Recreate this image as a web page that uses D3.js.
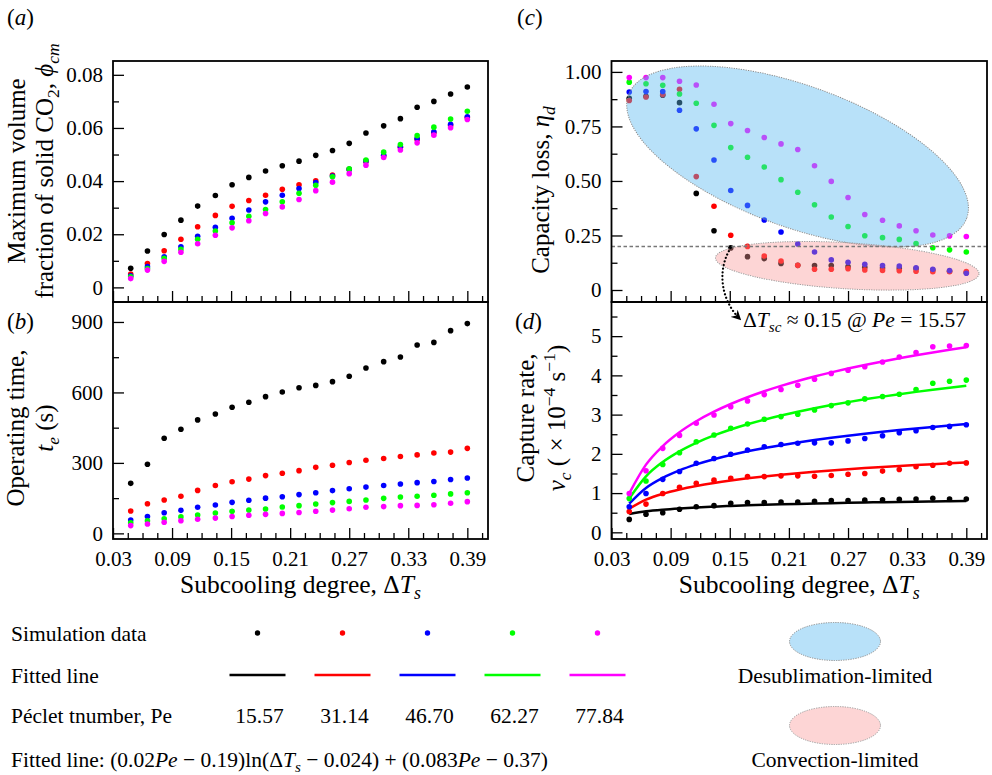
<!DOCTYPE html>
<html>
<head>
<meta charset="utf-8">
<script src="https://cdn.jsdelivr.net/npm/d3@7/dist/d3.min.js"></script>
<style>
  html, body { margin: 0; padding: 0; background: #fff; }
  svg { display: block; font-family: "Liberation Serif", "Times New Roman", "DejaVu Serif", serif; }
  text { white-space: pre; }
</style>
</head>
<body>
<svg id="fig" width="992" height="775"></svg>
<script>
// Subcooling degree ΔT_s of every simulation run
const subcooling = [0.048, 0.065, 0.082, 0.099, 0.116, 0.134, 0.151, 0.168, 0.185, 0.202,
                    0.219, 0.236, 0.253, 0.270, 0.287, 0.305, 0.322, 0.339, 0.356, 0.373, 0.390];

const pecletLabels = ["15.57", "31.14", "46.70", "62.27", "77.84"];
const pecletValues = [15.57, 31.14, 46.70, 62.27, 77.84];
const seriesColors = ["#000000", "#ff0000", "#0000ff", "#00ff00", "#ff00ff"];

// (a) maximum volume fraction of solid CO2, one row per Péclet number
const solidFraction = [
  [0.0072,0.0137,0.0199,0.0253,0.0306,0.0346,0.0386,0.0414,0.0438,0.0458,0.0475,0.0497,0.0515,0.0542,0.0581,0.0608,0.0635,0.0678,0.0700,0.0728,0.0754],
  [0.0050,0.0090,0.0138,0.0181,0.0228,0.0271,0.0305,0.0327,0.0347,0.0369,0.0386,0.0401,0.0423,0.0444,0.0473,0.0494,0.0527,0.0557,0.0582,0.0609,0.0639],
  [0.0044,0.0078,0.0115,0.0153,0.0192,0.0226,0.0260,0.0291,0.0322,0.0347,0.0372,0.0395,0.0419,0.0444,0.0476,0.0497,0.0529,0.0560,0.0586,0.0614,0.0642],
  [0.0040,0.0071,0.0109,0.0143,0.0181,0.0212,0.0243,0.0268,0.0293,0.0322,0.0354,0.0384,0.0416,0.0446,0.0479,0.0509,0.0538,0.0571,0.0603,0.0634,0.0663],
  [0.0033,0.0065,0.0098,0.0132,0.0164,0.0196,0.0224,0.0251,0.0278,0.0303,0.0331,0.0364,0.0396,0.0428,0.0460,0.0489,0.0517,0.0544,0.0573,0.0601,0.0632]
];

// (b) operating time t_e in seconds
const operatingTime = [
  [213,294,405,443,483,508,537,558,582,602,620,630,646,669,704,731,751,802,813,863,893],
  [95,126,142,158,183,204,220,231,246,256,267,281,290,302,311,319,327,334,342,346,362],
  [57,72,88,98,111,121,132,141,150,156,165,173,182,190,197,204,210,216,221,229,236],
  [45,54,62,70,78,87,94,99,104,112,118,125,131,136,142,149,155,158,162,168,173],
  [33,40,47,54,60,65,72,77,81,85,89,94,99,105,111,114,118,119,122,128,135]
];

// (c) capacity loss η_d
const capacityLoss = [
  [0.879,0.888,0.893,0.859,0.443,0.272,0.193,0.153,0.144,0.122,0.113,0.112,0.112,0.107,0.104,0.101,0.099,0.098,0.092,0.086,0.080],
  [0.869,0.885,0.896,0.920,0.520,0.384,0.251,0.200,0.156,0.133,0.113,0.095,0.095,0.098,0.092,0.090,0.088,0.086,0.084,0.084,0.085],
  [0.908,0.910,0.910,0.824,0.739,0.596,0.456,0.388,0.321,0.266,0.211,0.174,0.138,0.127,0.118,0.112,0.110,0.102,0.095,0.089,0.077],
  [0.953,0.946,0.939,0.899,0.856,0.755,0.653,0.609,0.564,0.506,0.448,0.391,0.335,0.291,0.249,0.240,0.232,0.213,0.194,0.184,0.174],
  [0.974,0.974,0.974,0.957,0.940,0.852,0.763,0.731,0.699,0.670,0.644,0.570,0.498,0.424,0.346,0.320,0.294,0.272,0.252,0.248,0.245]
];

// (d) capture rate v_c (×10⁻⁴ s⁻¹)
const captureRate = [
  [0.33,0.46,0.50,0.59,0.65,0.68,0.74,0.76,0.76,0.77,0.77,0.79,0.81,0.81,0.82,0.83,0.84,0.85,0.87,0.85,0.85],
  [0.53,0.72,0.99,1.15,1.25,1.33,1.38,1.42,1.42,1.44,1.44,1.43,1.45,1.48,1.50,1.56,1.60,1.67,1.71,1.76,1.77],
  [0.65,0.99,1.35,1.55,1.76,1.88,1.99,2.10,2.18,2.24,2.27,2.28,2.28,2.33,2.39,2.46,2.54,2.59,2.67,2.70,2.74],
  [0.86,1.31,1.73,2.03,2.31,2.48,2.65,2.76,2.88,2.95,3.01,3.12,3.23,3.30,3.40,3.46,3.52,3.64,3.80,3.85,3.88],
  [0.99,1.57,2.14,2.47,2.78,2.99,3.20,3.35,3.51,3.64,3.75,3.90,4.05,4.13,4.22,4.34,4.47,4.58,4.73,4.75,4.76]
];

// Fitted law: v_c = (a1·Pe + a0)·ln(ΔT_s − shift) + (b1·Pe + b0)
const fitSlopeCoef = [0.02, -0.19];
const fitInterceptCoef = [0.083, -0.37];
const fitShift = 0.024;

// Axis ticks
const xMajorTicks = [0.03, 0.09, 0.15, 0.21, 0.27, 0.33, 0.39];
const xTickLabels = ["0.03", "0.09", "0.15", "0.21", "0.27", "0.33", "0.39"];
const xMinorTicks = [0.045, 0.06, 0.075, 0.105, 0.12, 0.135, 0.165, 0.18, 0.195, 0.225, 0.24, 0.255,
                     0.285, 0.30, 0.315, 0.345, 0.36, 0.375, 0.405];
const yTicksA = [0, 0.02, 0.04, 0.06, 0.08], yLabelsA = ["0", "0.02", "0.04", "0.06", "0.08"], yMinorA = [0.01, 0.03, 0.05, 0.07];
const yTicksB = [0, 300, 600, 900], yLabelsB = ["0", "300", "600", "900"], yMinorB = [150, 450, 750];
const yTicksC = [0, 0.25, 0.5, 0.75, 1], yLabelsC = ["0", "0.25", "0.50", "0.75", "1.00"], yMinorC = [0.125, 0.375, 0.625, 0.875];
const yTicksD = [0, 1, 2, 3, 4, 5], yLabelsD = ["0", "1", "2", "3", "4", "5"], yMinorD = [0.5, 1.5, 2.5, 3.5, 4.5, 5.5];

const criticalLoss = 0.2;

const svg = d3.select("#fig");

// Rich text helper: parts are strings or [string, style] with style among "i", "sub", "sup"
function rich(sel, parts, size) {
  let shift = 0;
  parts.forEach(p => {
    const [str, style] = Array.isArray(p) ? p : [p, ""];
    const sub = style.includes("sub"), sup = style.includes("sup");
    const target = sub ? 0.22 * size : sup ? -0.42 * size : 0;
    const span = sel.append("tspan").text(str).attr("font-size", (sub || sup) ? 0.7 * size : size);
    if (target !== shift) span.attr("dy", target - shift);
    if (style.split(" ").includes("i")) span.attr("font-style", "italic");
    shift = target;
  });
  return sel;
}

function panel(box, yDomain, yTicks, yLabels, yMinor, showXLabels) {
  const x = d3.scaleLinear().domain([0.03, 0.411]).range([box.left, box.right]);
  const y = d3.scaleLinear().domain(yDomain).range([box.bottom, box.top]);
  const g = svg.append("g");

  const styleAxis = sel => {
    sel.select(".domain").remove();
    sel.selectAll(".tick line").attr("stroke", "#000").attr("stroke-width", 1.3);
    sel.selectAll("text").attr("font-family", null).attr("font-size", 21).attr("fill", "#000");
    sel.attr("font-family", null).attr("font-size", null);
  };

  g.append("g").attr("transform", `translate(${box.left},0)`)
    .call(d3.axisLeft(y).tickValues(yTicks).tickFormat((d, i) => yLabels[i]).tickSize(-11).tickPadding(10))
    .call(styleAxis);
  g.append("g").attr("transform", `translate(${box.left},0)`)
    .call(d3.axisLeft(y).tickValues(yMinor).tickFormat("").tickSize(-6))
    .call(styleAxis);
  g.append("g").attr("transform", `translate(0,${box.bottom})`)
    .call(d3.axisBottom(x).tickValues(xMajorTicks).tickFormat((d, i) => showXLabels ? xTickLabels[i] : "").tickSize(-11).tickPadding(12))
    .call(styleAxis);
  g.append("g").attr("transform", `translate(0,${box.bottom})`)
    .call(d3.axisBottom(x).tickValues(xMinorTicks).tickFormat("").tickSize(-6))
    .call(styleAxis);

  return { x, y, g, box };
}

function frame(p) {
  svg.append("rect")
    .attr("x", p.box.left).attr("y", p.box.top)
    .attr("width", p.box.right - p.box.left).attr("height", p.box.bottom - p.box.top)
    .attr("fill", "none").attr("stroke", "#000").attr("stroke-width", 1.8);
}

function dots(p, rows, r = 2.8) {
  rows.forEach((row, s) => {
    p.g.append("g").selectAll("circle").data(row).join("circle")
      .attr("cx", (d, i) => p.x(subcooling[i]))
      .attr("cy", d => p.y(d))
      .attr("r", r)
      .attr("fill", seriesColors[s]);
  });
}

const boxA = { left: 113, right: 488, top: 61, bottom: 302 };
const boxB = { left: 113, right: 488, top: 302, bottom: 539 };
const boxC = { left: 611.5, right: 987, top: 61, bottom: 302 };
const boxD = { left: 611.5, right: 987, top: 302, bottom: 539 };

// ---- (a) solid fraction
const pa = panel(boxA, [-0.0055, 0.0852], yTicksA, yLabelsA, yMinorA, false);
dots(pa, solidFraction);
frame(pa);

// ---- (b) operating time
const pb = panel(boxB, [-24, 985], yTicksB, yLabelsB, yMinorB, true);
dots(pb, operatingTime);
frame(pb);

// ---- (c) capacity loss with regime regions
const pc = panel(boxC, [-0.055, 1.05], yTicksC, yLabelsC, yMinorC, false);
dots(pc, capacityLoss);

// desublimation-limited region
pc.g.append("ellipse")
  .attr("transform", `translate(${pc.x(0.2188)},${pc.y(0.612)}) rotate(20)`)
  .attr("rx", 180).attr("ry", 70.6)
  .attr("fill", "rgb(90,185,240)").attr("fill-opacity", 0.43)
  .attr("stroke", "#8a8a8a").attr("stroke-width", 1).attr("stroke-dasharray", "1.2,1.2");
// convection-limited region
pc.g.append("ellipse")
  .attr("transform", `translate(${pc.x(0.2692)},${pc.y(0.111)}) rotate(3.5)`)
  .attr("rx", 132).attr("ry", 23)
  .attr("fill", "rgb(250,150,150)").attr("fill-opacity", 0.4)
  .attr("stroke", "#9a9a9a").attr("stroke-width", 1).attr("stroke-dasharray", "1.2,1.2");

// critical capacity loss threshold
pc.g.append("line")
  .attr("x1", boxC.left).attr("x2", boxC.right)
  .attr("y1", pc.y(criticalLoss)).attr("y2", pc.y(criticalLoss))
  .attr("stroke", "#777").attr("stroke-width", 1.5).attr("stroke-dasharray", "3.5,2.5");
frame(pc);

// ---- (d) capture rate with fitted curves
const pd = panel(boxD, [-0.17, 5.87], yTicksD, yLabelsD, yMinorD, true);
const fitLine = d3.line().x(d => pd.x(d[0])).y(d => pd.y(d[1])).curve(d3.curveMonotoneX);
pecletValues.forEach((pe, s) => {
  const a = fitSlopeCoef[0] * pe + fitSlopeCoef[1];
  const b = fitInterceptCoef[0] * pe + fitInterceptCoef[1];
  const pts = subcooling.map(t => [t, a * Math.log(t - fitShift) + b]);
  pd.g.append("path").attr("d", fitLine(pts))
    .attr("fill", "none").attr("stroke", seriesColors[s]).attr("stroke-width", 2.5);
});
dots(pd, captureRate);
frame(pd);

// critical subcooling annotation arrow from (c) into (d)
const defs = svg.append("defs");
defs.append("marker").attr("id", "arrowHead")
  .attr("viewBox", "0 0 10 10").attr("refX", 8).attr("refY", 5)
  .attr("markerWidth", 10).attr("markerHeight", 10).attr("markerUnits", "userSpaceOnUse")
  .attr("orient", "auto")
  .append("path").attr("d", "M0,0 L10,5 L0,10 L3,5 Z").attr("fill", "#000");
{
  const sx = pc.x(subcooling[6]), sy = pc.y(capacityLoss[0][6]);
  const path = d3.path();
  path.moveTo(sx, sy);
  path.bezierCurveTo(sx - 14, sy + 22, sx - 10, sy + 52, sx + 9, sy + 71);
  svg.append("path").attr("d", path.toString())
    .attr("fill", "none").attr("stroke", "#000").attr("stroke-width", 2.2)
    .attr("stroke-linecap", "round").attr("stroke-dasharray", "0.1,3.6")
    .attr("marker-end", "url(#arrowHead)");
}
rich(svg.append("text").attr("x", 743).attr("y", 327), [
  "Δ", ["T", "i"], ["sc", "i sub"], " ≈ 0.15 @ ", ["Pe", "i"], " = 15.57"
], 21.5);

// ---- panel letters
[["a", 7, 25], ["b", 7, 329], ["c", 517, 25], ["d", 515, 329]].forEach(([l, x, y]) => {
  rich(svg.append("text").attr("x", x).attr("y", y), ["(", [l, "i"], ")"], 23);
});

// ---- axis titles
function yTitle(x, cy, parts, size = 25) {
  rich(svg.append("text").attr("transform", `translate(${x},${cy}) rotate(-90)`)
    .attr("text-anchor", "middle"), parts, size);
}
yTitle(25, 171, ["Maximum volume"]);
yTitle(53, 171, ["fraction of solid CO", ["2", "sub"], ", ", ["ϕ", "i"], ["cm", "i sub"]]);
yTitle(24, 428, ["Operating time,"]);
yTitle(53, 428, [["t", "i"], ["e", "i sub"], " (s)"]);
yTitle(549, 190, ["Capacity loss, ", ["η", "i"], ["d", "i sub"]]);
yTitle(534, 418, ["Capture rate,"]);
yTitle(565, 418, [["v", "i"], ["c", "i sub"], " ( × 10", ["−4", "sup"], " s", ["−1", "sup"], ")"]);

[[pb, boxB], [pd, boxD]].forEach(([p, box]) => {
  rich(svg.append("text").attr("x", (box.left + box.right) / 2).attr("y", 593).attr("text-anchor", "middle"),
    ["Subcooling degree, Δ", ["T", "i"], ["s", "i sub"]], 25.5);
});

// ---- legend
const legendX = d3.scalePoint().domain(pecletLabels).range([257.5, 597.5]);
const legendFont = 21.5;
svg.append("text").attr("x", 11).attr("y", 641).attr("font-size", legendFont).text("Simulation data");
svg.append("text").attr("x", 11).attr("y", 683).attr("font-size", legendFont).text("Fitted line");
svg.append("text").attr("x", 11).attr("y", 723).attr("font-size", legendFont).text("Péclet tnumber, Pe");
const legend = svg.append("g");
legend.selectAll("circle").data(pecletLabels).join("circle")
  .attr("cx", d => legendX(d)).attr("cy", 633).attr("r", 2.7)
  .attr("fill", (d, i) => seriesColors[i]);
legend.selectAll("line").data(pecletLabels).join("line")
  .attr("x1", d => legendX(d) - 28).attr("x2", d => legendX(d) + 28)
  .attr("y1", 675).attr("y2", 675)
  .attr("stroke", (d, i) => seriesColors[i]).attr("stroke-width", 2.6);
legend.selectAll("text").data(pecletLabels).join("text")
  .attr("x", d => legendX(d) + 2).attr("y", 723).attr("text-anchor", "middle")
  .attr("font-size", legendFont).text(d => d);

rich(svg.append("text").attr("x", 11).attr("y", 767), [
  "Fitted line: (0.02", ["Pe", "i"], " − 0.19)ln(Δ", ["T", "i"], ["s", "i sub"],
  " − 0.024) + (0.083", ["Pe", "i"], " − 0.37)"
], legendFont);

// regime legend
svg.append("ellipse").attr("cx", 835).attr("cy", 641.5).attr("rx", 45.5).attr("ry", 19)
  .attr("fill", "rgb(90,185,240)").attr("fill-opacity", 0.43)
  .attr("stroke", "#8a8a8a").attr("stroke-width", 1).attr("stroke-dasharray", "1.2,1.2");
svg.append("ellipse").attr("cx", 835).attr("cy", 725.5).attr("rx", 45.5).attr("ry", 19)
  .attr("fill", "rgb(250,150,150)").attr("fill-opacity", 0.4)
  .attr("stroke", "#9a9a9a").attr("stroke-width", 1).attr("stroke-dasharray", "1.2,1.2");
svg.append("text").attr("x", 835).attr("y", 683).attr("text-anchor", "middle")
  .attr("font-size", legendFont).text("Desublimation-limited");
svg.append("text").attr("x", 835).attr("y", 767).attr("text-anchor", "middle")
  .attr("font-size", legendFont).text("Convection-limited");
</script>
</body>
</html>
